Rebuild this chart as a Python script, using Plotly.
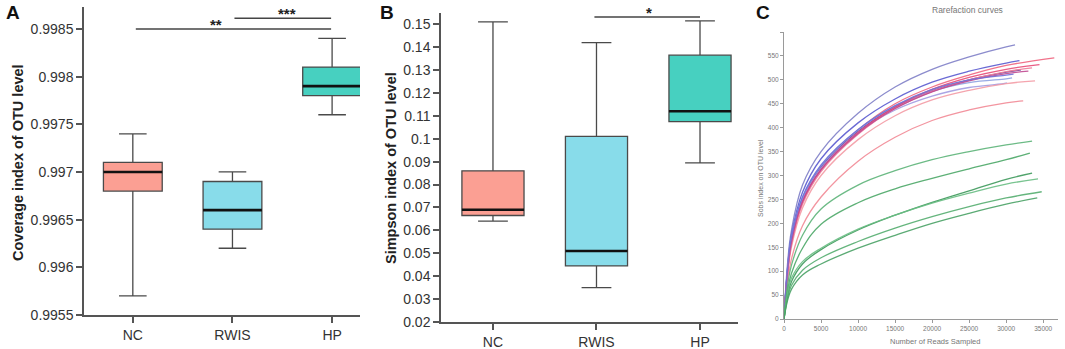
import plotly.graph_objects as go

# ---------------- data ----------------
categories = ["NC", "RWIS", "HP"]
box_colors = ["#FB9F93", "#88DCEA", "#47D0C0"]

# Panel A: Coverage index of OTU level
cov_lower = [0.9957, 0.9962, 0.9976]
cov_q1 = [0.9968, 0.9964, 0.9978]
cov_median = [0.9970, 0.9966, 0.9979]
cov_q3 = [0.9971, 0.9969, 0.9981]
cov_upper = [0.9974, 0.9970, 0.9984]
cov_ticks = [0.9955, 0.996, 0.9965, 0.997, 0.9975, 0.998, 0.9985]
cov_ticktext = ["0.9955", "0.996", "0.9965", "0.997", "0.9975", "0.998", "0.9985"]

# Panel B: Simpson index of OTU level
simp_lower = [0.064, 0.035, 0.0895]
simp_q1 = [0.0665, 0.0445, 0.1075]
simp_median = [0.069, 0.051, 0.112]
simp_q3 = [0.086, 0.101, 0.1365]
simp_upper = [0.151, 0.142, 0.1515]
simp_ticks = [0.02, 0.03, 0.04, 0.05, 0.06, 0.07, 0.08, 0.09, 0.10, 0.11, 0.12, 0.13, 0.14, 0.15]
simp_ticktext = ["0.02", "0.03", "0.04", "0.05", "0.06", "0.07", "0.08", "0.09", "0.1",
                 "0.11", "0.12", "0.13", "0.14", "0.15"]

# Panel C: rarefaction curves (Sobs vs reads sampled)
rare_x = [0, 500, 1000, 2500, 5000, 10000, 15000, 20000, 25000, 30000]
rare_curves = [
    [0, 120, 185, 280, 350, 430, 485, 522, 548, 569],
    [0, 110, 175, 265, 335, 410, 460, 495, 518, 535],
    [0, 100, 160, 245, 315, 395, 450, 485, 510, 530],
    [0, 105, 165, 250, 318, 392, 443, 477, 500, 516],
    [0, 110, 170, 255, 320, 395, 445, 476, 494, 502],
    [0, 105, 165, 250, 315, 390, 437, 466, 484, 493],
    [0, 95, 150, 232, 300, 375, 425, 458, 478, 492],
    [0, 80, 125, 195, 255, 330, 380, 415, 437, 452],
    [0, 100, 160, 245, 312, 390, 443, 480, 505, 522],
    [0, 98, 155, 240, 308, 386, 440, 476, 500, 517],
    [0, 102, 160, 245, 312, 388, 440, 475, 498, 513],
    [0, 108, 170, 255, 322, 396, 446, 480, 500, 510],
    [0, 72, 112, 175, 230, 280, 310, 333, 350, 364],
    [0, 60, 95, 148, 198, 243, 272, 294, 314, 333],
    [0, 50, 78, 115, 145, 186, 217, 244, 268, 292],
    [0, 55, 85, 120, 148, 188, 217, 242, 263, 282],
    [0, 45, 70, 102, 128, 162, 190, 214, 235, 253],
    [0, 40, 62, 92, 115, 148, 175, 200, 221, 240],
]
rare_end_x = [31200, 31800, 36500, 32000, 30800, 30100, 33900, 32300, 34500, 33500, 33000, 31000,
              33500, 33200, 33500, 34300, 34800, 34200]
rare_end_y = [573, 540, 546, 521, 504, 494, 498, 456, 532, 525, 518, 512,
              372, 347, 305, 293, 266, 253]
rare_colors = ["#8080C8", "#5A5AD0", "#F0647F", "#5B3C9E", "#8EA2E2", "#A29CE2",
               "#F49CA6", "#F28A96", "#E84C78", "#F07E9A", "#C04A92", "#7070D8",
               "#5DB479", "#4CA868", "#3E9A5C", "#6ABE84", "#55AE70", "#4AA266"]
rare_ticks = [0, 50, 100, 150, 200, 250, 300, 350, 400, 450, 500, 550, 600]
rare_xticks = [0, 5000, 10000, 15000, 20000, 25000, 30000, 35000]

# ---------------- figure ----------------
W, H = 1065, 349
fig = go.Figure()

BOX_LINE = "#4a4a4a"
TICKFONT = dict(family="Liberation Sans, Arial, sans-serif", size=14, color="#333333")


def add_boxes(xa, ya, lower, q1, med, q3, upper, width, wwidth):
    for i, cat in enumerate(categories):
        fig.add_trace(go.Box(
            x=[i], q1=[q1[i]], median=[med[i]], q3=[q3[i]],
            lowerfence=[lower[i]], upperfence=[upper[i]],
            fillcolor=box_colors[i], line=dict(color=BOX_LINE, width=1.3),
            width=width, whiskerwidth=wwidth, boxpoints=False,
            showlegend=False, hoverinfo="skip", xaxis=xa, yaxis=ya))
        fig.add_trace(go.Scatter(
            x=[i - width / 2, i + width / 2], y=[med[i], med[i]], mode="lines",
            line=dict(color="#111111", width=2.6), showlegend=False,
            hoverinfo="skip", xaxis=xa, yaxis=ya))


add_boxes("x", "y", cov_lower, cov_q1, cov_median, cov_q3, cov_upper, 0.59, 0.47)
add_boxes("x2", "y2", simp_lower, simp_q1, simp_median, simp_q3, simp_upper, 0.60, 0.48)

for i, ys in enumerate(rare_curves):
    fig.add_trace(go.Scatter(
        x=rare_x + [rare_end_x[i]], y=ys + [rare_end_y[i]], mode="lines",
        line=dict(color=rare_colors[i], width=1.3, shape="spline", smoothing=1.1),
        opacity=0.9, showlegend=False, hoverinfo="skip", xaxis="x3", yaxis="y3"))


def px_domain_x(a, b):
    return [a / W, b / W]


def px_domain_y(top, bottom):
    return [1 - bottom / H, 1 - top / H]


axis_common = dict(showgrid=False, zeroline=False, showline=True, linecolor="#555555",
                   linewidth=1.5, ticks="outside", ticklen=6, tickwidth=1.5,
                   tickcolor="#555555", tickfont=TICKFONT, automargin=False)
small_tick = dict(family="Liberation Sans, Arial, sans-serif", size=6.5, color="#777777")
small_axis = dict(showgrid=False, zeroline=False, showline=True, linecolor="#9a9a9a",
                  linewidth=1, ticks="outside", ticklen=3, tickcolor="#9a9a9a",
                  tickfont=small_tick, automargin=False)

fig.update_layout(
    template="none",
    width=W, height=H, margin=dict(l=0, r=0, t=0, b=0, pad=0, autoexpand=False),
    autosize=False,
    paper_bgcolor="white", plot_bgcolor="white", boxmode="overlay", showlegend=False,
    xaxis=dict(domain=px_domain_x(84, 360), range=[-0.49, 2.28], tickvals=[0, 1, 2],
               ticktext=categories, anchor="y", **axis_common),
    yaxis=dict(domain=px_domain_y(7, 315), range=[0.9955, 0.99873], tickvals=cov_ticks,
               ticktext=cov_ticktext, anchor="x", **axis_common),
    xaxis2=dict(domain=px_domain_x(441, 738), range=[-0.502, 2.367], tickvals=[0, 1, 2],
                ticktext=categories, anchor="y2", **axis_common),
    yaxis2=dict(domain=px_domain_y(13, 322), range=[0.02, 0.1549], tickvals=simp_ticks,
                ticktext=simp_ticktext, anchor="x2", **axis_common),
    xaxis3=dict(domain=px_domain_x(784, 1058), range=[0, 37000], tickvals=rare_xticks,
                ticktext=[str(v) for v in rare_xticks], anchor="y3", **small_axis),
    yaxis3=dict(domain=px_domain_y(32, 319), range=[0, 600], tickvals=rare_ticks,
                ticktext=[str(v) if v < 600 else "" for v in rare_ticks], anchor="x3",
                **small_axis),
)

# significance bars
SIG = "#444444"
fig.add_shape(type="line", xref="x", yref="y", x0=0.03, x1=1.99, y0=0.99850, y1=0.99850,
              line=dict(color=SIG, width=1.5))
fig.add_shape(type="line", xref="x", yref="y", x0=1.02, x1=1.99, y0=0.998613, y1=0.998613,
              line=dict(color=SIG, width=1.5))
fig.add_shape(type="line", xref="x2", yref="y2", x0=0.98, x1=2.0, y0=0.1532, y1=0.1532,
              line=dict(color=SIG, width=1.5))

STAR = dict(family="Liberation Sans, Arial, sans-serif", size=15, color="#222222")
fig.add_annotation(x=0.83, y=0.99850, xref="x", yref="y", text="<b>**</b>", showarrow=False,
                   xanchor="center", yanchor="bottom", yshift=-6, font=STAR)
fig.add_annotation(x=1.55, y=0.998613, xref="x", yref="y", text="<b>***</b>", showarrow=False,
                   xanchor="center", yanchor="bottom", yshift=-6, font=STAR)
fig.add_annotation(x=1.51, y=0.1532, xref="x2", yref="y2", text="<b>*</b>", showarrow=False,
                   xanchor="center", yanchor="bottom", yshift=-6, font=STAR)


def paper_text(px, py, text, font, angle=0):
    fig.add_annotation(x=px / W, y=1 - py / H, xref="paper", yref="paper", text=text,
                       textangle=angle, showarrow=False, xanchor="center", yanchor="middle",
                       font=font)


# axis titles and panel letters
TITLE = dict(family="Liberation Sans, Arial, sans-serif", size=14.5, color="#222222")
paper_text(18, 163, "<b>Coverage index of OTU level</b>", TITLE, -90)
paper_text(391, 168, "<b>Simpson index of OTU level</b>", TITLE, -90)
LETTER = dict(family="Liberation Sans, Arial, sans-serif", size=19, color="#111111")
for lx, lt in [(13, "A"), (387, "B"), (763, "C")]:
    paper_text(lx, 12, "<b>%s</b>" % lt, LETTER)

SMALL = dict(family="Liberation Sans, Arial, sans-serif", color="#777777")
paper_text(967, 10, "Rarefaction curves", dict(size=8.5, **SMALL))
paper_text(935, 341, "Number of Reads Sampled", dict(size=7.5, **SMALL))
paper_text(760, 178, "Sobs index on OTU level", dict(size=7, **SMALL), -90)

fig.write_html("out.html", config={"displayModeBar": False, "responsive": False},
               post_script="document.body.style.margin='0';document.body.style.overflow='hidden';")
